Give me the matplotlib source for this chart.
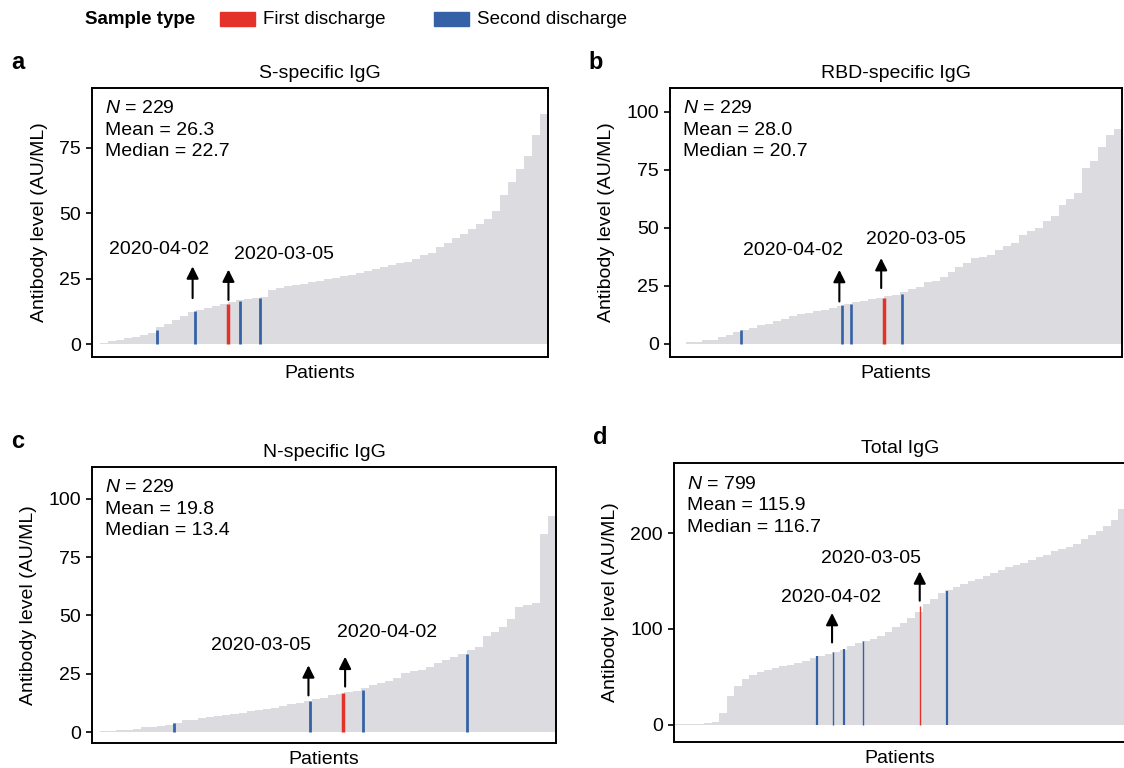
import numpy as np
import matplotlib
matplotlib.use("Agg")
import matplotlib.pyplot as plt
from matplotlib.patches import Rectangle

plt.rcParams['font.family'] = ['Liberation Sans', 'DejaVu Sans']
plt.rcParams['mathtext.fontset'] = 'custom'
plt.rcParams['mathtext.it'] = 'Liberation Sans:italic'
plt.rcParams['mathtext.rm'] = 'Liberation Sans'

GREY = '#dcdce0'
RED = '#e4322a'
BLUE = '#3562a6'

# sorted antibody levels (each value = a group of neighbouring patients)
s_igg = [0, 0.3, 1.4, 1.7, 2.2, 2.8, 3.5, 4.3, 6.5, 7.8, 9.3, 10.6, 12.2, 13.2, 14.0, 14.7,
         15.2, 16.2, 16.7, 17.2, 17.5, 18.0, 20.8, 21.5, 22.2, 22.7, 23.0, 23.6, 24.2, 24.8,
         25.4, 26.0, 26.4, 27.3, 28.0, 28.6, 29.4, 30.2, 31.0, 31.5, 32.5, 34.0, 35.0, 37.0,
         38.6, 40.4, 42.0, 44.0, 46.0, 47.8, 51.0, 57, 62, 67, 72, 80, 88]
rbd_igg = [0, 0.2, 0.8, 1.0, 1.5, 1.6, 3.0, 4.0, 5.0, 6.2, 6.8, 8.0, 8.5, 10.0, 10.8, 12.2,
           12.8, 13.5, 14.2, 14.8, 15.5, 16.5, 17.2, 18.0, 18.6, 19.2, 19.8, 20.6, 21.3, 22.5,
           23.5, 24.5, 26.5, 27.2, 29.0, 31.0, 33.0, 35.0, 37.0, 37.5, 38.5, 40.5, 42.0, 43.5,
           47.0, 48.5, 50.0, 53.0, 55.0, 60.0, 62.5, 65.0, 76.0, 79.0, 85.0, 90.0, 92.5]
n_igg = [0.2, 0.3, 0.4, 0.7, 0.9, 1.5, 2.0, 2.3, 2.6, 3.0, 4.0, 5.0, 5.3, 6.0, 6.5, 7.0,
         7.3, 7.8, 8.3, 8.8, 9.5, 10.0, 10.5, 11.2, 11.8, 12.5, 13.2, 14.0, 14.8, 15.8,
         16.5, 17.2, 17.8, 19.0, 20.2, 21.0, 21.8, 23.0, 25.5, 26.0, 26.8, 28.0, 29.5, 31.0,
         32.0, 33.3, 35.0, 36.5, 41.0, 43.0, 45.0, 48.5, 53.5, 54.5, 55.5, 85.0, 92.7]
total_igg = [0.5, 0.5, 1, 1.5, 2, 3, 12, 30, 41, 48, 52, 55, 57, 59, 61, 63, 65, 67, 70, 72,
             74, 76, 78, 82, 85, 88, 90, 93, 97, 102, 106, 111, 118, 126, 131, 137, 141, 144,
             147, 150, 152, 155, 158, 161, 165, 167, 169, 172, 175, 177, 181, 183, 185, 189,
             194, 198, 202, 207, 214, 225]

# highlighted samples: (patient rank, level, type)
s_marks = [(32, 5.5, 'second'), (51, 12.5, 'second'), (67.6, 15.4, 'first'),
           (73.6, 16.6, 'second'), (84, 17.6, 'second')]
rbd_marks = [(35.5, 5.9, 'second'), (86.7, 16.9, 'second'), (91.3, 17.3, 'second'),
             (107.7, 19.9, 'first'), (117, 21.6, 'second')]
n_marks = [(40, 3.7, 'second'), (107, 13.3, 'second'), (123.5, 16.9, 'first'),
           (133, 18.0, 'second'), (184.6, 33.5, 'second')]
total_marks = [(252, 72, 'second'), (281, 75.7, 'second'), (301, 79.5, 'second'),
               (334, 87.8, 'second'), (434, 123.6, 'first'), (483, 140, 'second')]

# date annotations: (label, arrow x, arrow y from, arrow y to, label x, label y)
s_notes = [('2020-04-02', 50, 17.6, 29.7, 33, 36.3), ('2020-03-05', 68, 16.9, 28.5, 96, 34.1)]
rbd_notes = [('2020-04-02', 85.3, 18.3, 31.9, 62, 40.3), ('2020-03-05', 106.5, 24.1, 37.0, 124, 44.8)]
n_notes = [('2020-03-05', 106.3, 15.7, 28.6, 83, 37.1), ('2020-04-02', 124.4, 19.5, 32.3, 145, 42.6)]
total_notes = [('2020-04-02', 279, 86, 116.7, 278, 133), ('2020-03-05', 434, 129.5, 160, 348, 173)]

panels = [
    dict(tag='a', title='S-specific IgG', n=229, mean='26.3', median='22.7', vals=s_igg,
         marks=s_marks, notes=s_notes, ylim=(-4.85, 97.8), yticks=[0, 25, 50, 75],
         rect=[0.0819, 0.5352, 0.4057, 0.3503], lw=(2.0, 2.5), thin=[]),
    dict(tag='b', title='RBD-specific IgG', n=229, mean='28.0', median='20.7', vals=rbd_igg,
         marks=rbd_marks, notes=rbd_notes, ylim=(-5.6, 110.3), yticks=[0, 25, 50, 75, 100],
         rect=[0.5961, 0.5352, 0.4021, 0.3503], lw=(1.9, 2.5), thin=[]),
    dict(tag='c', title='N-specific IgG', n=229, mean='19.8', median='13.4', vals=n_igg,
         marks=n_marks, notes=n_notes, ylim=(-4.7, 113.7), yticks=[0, 25, 50, 75, 100],
         rect=[0.0819, 0.0326, 0.4128, 0.3594], lw=(2.0, 2.5), thin=[]),
    dict(tag='d', title='Total IgG', n=799, mean='115.9', median='116.7', vals=total_igg,
         marks=total_marks, notes=total_notes, ylim=(-17.7, 273), yticks=[0, 100, 200],
         rect=[0.5996, 0.0339, 0.4021, 0.3633], lw=(1.6, 1.0), thin=[1, 3]),
]

fig = plt.figure(figsize=(11.24, 7.68), dpi=100)
FS = 14

for p in panels:
    ax = fig.add_axes(p['rect'])
    n = p['n']
    vals = np.array(p['vals'])
    edges = np.linspace(-0.5, n - 0.5, len(vals) + 1)
    ax.bar(edges[:-1], vals, width=np.diff(edges), align='edge', color=GREY, linewidth=0)
    for i, (x, h, kind) in enumerate(p['marks']):
        col = RED if kind == 'first' else BLUE
        lw = p['lw'][1] if kind == 'first' else p['lw'][0]
        if i in p['thin']:
            lw = 1.0
        ax.vlines(x, 0, h, colors=col, linewidth=lw, zorder=3)
    for lab, ax_x, y0, y1, lx, ly in p['notes']:
        ax.annotate('', xy=(ax_x, y1), xytext=(ax_x, y0),
                    arrowprops=dict(arrowstyle='-|>', color='black', lw=1.5,
                                    mutation_scale=18, shrinkA=0, shrinkB=0))
        ax.text(lx, ly, lab, ha='center', va='center', fontsize=FS)
    ax.set_xlim(-0.5, n - 0.5)
    ax.set_ylim(*p['ylim'])
    ax.set_yticks(p['yticks'])
    ax.set_xticks([])
    ax.tick_params(axis='y', labelsize=FS, length=4, width=1.2, pad=4)
    for sp in ax.spines.values():
        sp.set_linewidth(1.4)
    ax.set_title(p['title'], fontsize=FS, pad=7)
    ax.set_xlabel('Patients', fontsize=FS, labelpad=6)
    ax.set_ylabel('Antibody level (AU/ML)', fontsize=FS, labelpad=8)
    ax.text(0.028, 0.955, '$\\it{N}$ = %d\nMean = %s\nMedian = %s' % (n, p['mean'], p['median']),
            transform=ax.transAxes, ha='left', va='top', fontsize=FS, linespacing=1.35)
    fig.text(p['rect'][0] - 0.066, p['rect'][1] + p['rect'][3] + 0.033, p['tag'],
             fontsize=17, fontweight='bold', ha='center', va='center')

# legend across the top
fig.text(85 / 1124, 1 - 19 / 768, 'Sample type', fontsize=13.5, fontweight='bold',
         ha='left', va='center')
fig.patches.append(Rectangle((220 / 1124, 1 - 26 / 768), 35 / 1124, 14 / 768,
                             transform=fig.transFigure, color=RED))
fig.text(263 / 1124, 1 - 19 / 768, 'First discharge', fontsize=13.5, ha='left', va='center')
fig.patches.append(Rectangle((434 / 1124, 1 - 26 / 768), 35 / 1124, 14 / 768,
                             transform=fig.transFigure, color=BLUE))
fig.text(477 / 1124, 1 - 19 / 768, 'Second discharge', fontsize=13.5, ha='left', va='center')

fig.savefig('out.png', dpi=100)
